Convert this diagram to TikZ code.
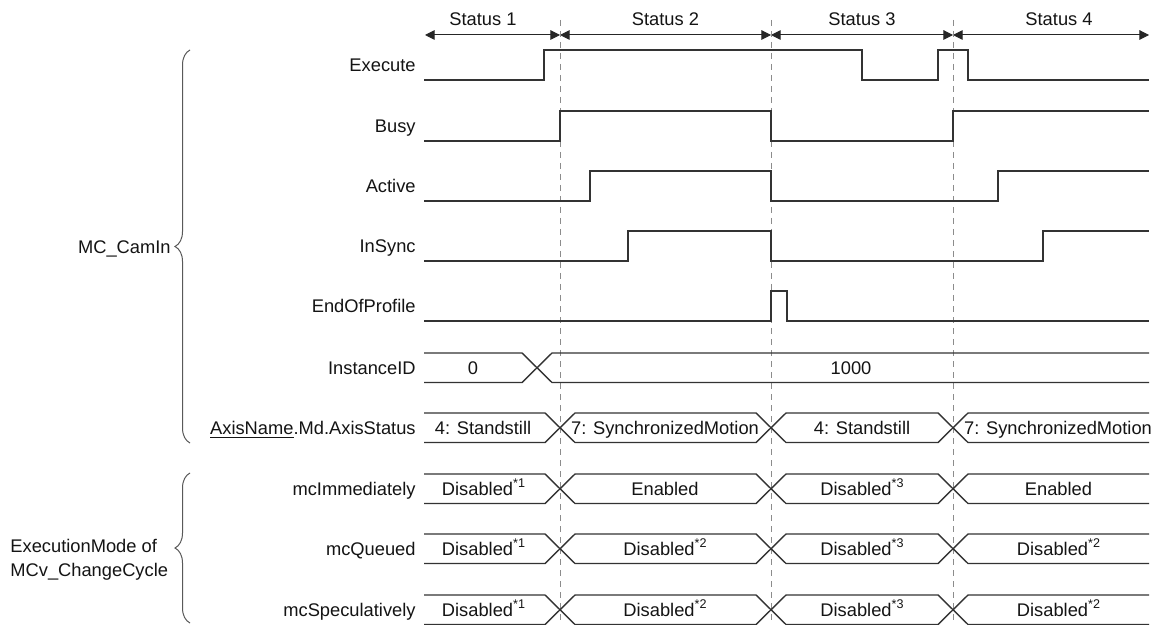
\documentclass[tikz,border=0pt]{standalone}
\usepackage{fontspec}
\setmainfont{Liberation Sans}
\usetikzlibrary{arrows.meta,decorations.pathreplacing}

\newcommand{\starref}[1]{\textsuperscript{\fontsize{6.3}{7}\selectfont *#1}}

\begin{document}
\begin{tikzpicture}[x=0.5pt,y=-0.5pt,
font=\fontsize{9.15}{12}\selectfont,
sig/.style={anchor=east,inner sep=0pt,text height=6.55pt,text depth=0pt,text=black!92},
val/.style={inner sep=0pt,text height=6.55pt,text depth=0pt,text=black!92},
wave/.style={line width=0.7pt,draw=black!80},
guide/.style={line width=0.5pt,draw=black!45,dash pattern=on 3pt off 2.5pt},
statusspan/.style={{Triangle[length=4.8pt,width=4.8pt]}-{Triangle[length=4.8pt,width=4.8pt]},line width=0.5pt,black!85},
grp/.style={decorate,decoration={brace,amplitude=7.5pt},line width=0.5pt,draw=black!65}]

\path[use as bounding box,fill=white] (0,0) rectangle (1154,625);

% status header
\coordinate (a0) at (425,35);
\coordinate (a1) at (560,35);
\coordinate (a2) at (771,35);
\coordinate (a3) at (953,35);
\coordinate (a4) at (1149,35);

\node[val] (st1) at (483,19) {Status 1};
\node[val] (st2) at (665.5,19) {Status 2};
\node[val] (st3) at (862,19) {Status 3};
\node[val] (st4) at (1059,19) {Status 4};

\draw[statusspan] (a0) -- (a1);
\draw[statusspan] (a1) -- (a2);
\draw[statusspan] (a2) -- (a3);
\draw[statusspan] (a3) -- (a4);

\foreach \x in {560,771,953}
  \draw[guide] (\x,20) -- (\x,625);

% signal names
\node[sig] (lexec) at (416,65) {Execute};
\node[sig] (lbusy) at (416,126) {Busy};
\node[sig] (lact) at (416,186) {Active};
\node[sig] (lsync) at (416,246) {InSync};
\node[sig] (leop) at (416,306) {EndOfProfile};
\node[sig] (lid) at (416,367.5) {InstanceID};
\node[sig] (lax) at (416,428) {\underline{AxisName}.Md.AxisStatus};
\node[sig] (limm) at (416,488.5) {mcImmediately};
\node[sig] (lque) at (416,549) {mcQueued};
\node[sig] (lspe) at (416,609.5) {mcSpeculatively};

% groups
\draw[grp] (190,443) -- (190,50);
\node[sig] (cam) at (171,246.5) {MC\_CamIn};
\draw[grp] (190,623) -- (190,473);
\node[align=left,anchor=west,inner sep=0pt,text=black!92] (mode) at (10,560) {ExecutionMode of\\MCv\_ChangeCycle};

% bit signals
\draw[wave] (424,80) -- (544,80) -- (544,50) -- (862,50) -- (862,80) -- (938,80) -- (938,50) -- (968,50) -- (968,80) -- (1149,80);
\draw[wave] (424,141) -- (560,141) -- (560,111) -- (771,111) -- (771,141) -- (953,141) -- (953,111) -- (1149,111);
\draw[wave] (424,201) -- (590,201) -- (590,171) -- (771,171) -- (771,201) -- (998,201) -- (998,171) -- (1149,171);
\draw[wave] (424,261) -- (628,261) -- (628,231) -- (771,231) -- (771,261) -- (1043,261) -- (1043,231) -- (1149,231);
\draw[wave] (424,321) -- (771,321) -- (771,291) -- (787,291) -- (787,321) -- (1149,321);

% word signals
\draw[wave] (424,353) -- (522,353) -- (552,382.5) -- (1149,382.5);
\draw[wave] (424,382.5) -- (522,382.5) -- (552,353) -- (1149,353);
\node[val] (id0) at (473,367.5) {0};
\node[val] (id1) at (851,367.5) {1000};

\foreach \t in {413,474,534,595} {
  \draw[wave] (424,\t) -- (545,\t) -- (575,\t+29.5) -- (756,\t+29.5) -- (786,\t) -- (938,\t) -- (968,\t+29.5) -- (1149,\t+29.5);
  \draw[wave] (424,\t+29.5) -- (545,\t+29.5) -- (575,\t) -- (756,\t) -- (786,\t+29.5) -- (938,\t+29.5) -- (968,\t) -- (1149,\t);
}

\node[val] (ax1) at (483,428) {4: Standstill};
\node[val] (ax2) at (665,428) {7: SynchronizedMotion};
\node[val] (ax3) at (862,428) {4: Standstill};
\node[val] (ax4) at (1058,428) {7: SynchronizedMotion};

\node[val] (im1) at (484,488.5) {Disabled\starref{1}};
\node[val] (im2) at (665,488.5) {Enabled};
\node[val] (im3) at (862.5,488.5) {Disabled\starref{3}};
\node[val] (im4) at (1058.5,488.5) {Enabled};

\node[val] (qu1) at (484,549) {Disabled\starref{1}};
\node[val] (qu2) at (665.5,549) {Disabled\starref{2}};
\node[val] (qu3) at (862.5,549) {Disabled\starref{3}};
\node[val] (qu4) at (1059,549) {Disabled\starref{2}};

\node[val] (sp1) at (484,609.5) {Disabled\starref{1}};
\node[val] (sp2) at (665.5,609.5) {Disabled\starref{2}};
\node[val] (sp3) at (862.5,609.5) {Disabled\starref{3}};
\node[val] (sp4) at (1059,609.5) {Disabled\starref{2}};

\end{tikzpicture}
\end{document}
